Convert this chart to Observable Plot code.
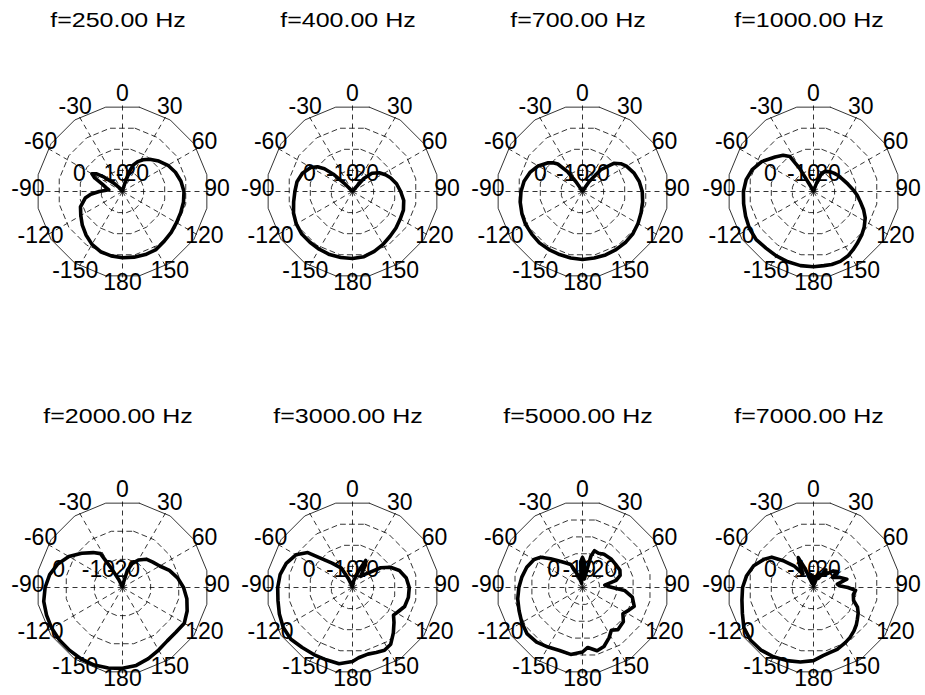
<!DOCTYPE html>
<html><head><meta charset="utf-8">
<script src="https://cdn.jsdelivr.net/npm/d3@7"></script>
<script src="https://cdn.jsdelivr.net/npm/@observablehq/plot@0.6"></script>
<style>
body{margin:0;background:#fff;}
#fig{position:relative;width:925px;height:695px;overflow:hidden;font-family:Arial,"Liberation Sans",sans-serif;background:#fff;}
.title{position:absolute;width:230px;text-align:center;font-size:20.5px;line-height:1;transform:scaleX(1.22);color:#000;white-space:nowrap;}
</style></head><body><div id="fig"></div>
<script>
// ---- data ----
const titles = ["f=250.00 Hz","f=400.00 Hz","f=700.00 Hz","f=1000.00 Hz","f=2000.00 Hz","f=3000.00 Hz","f=5000.00 Hz","f=7000.00 Hz"];
const angleTicks = [0,30,60,90,120,150,180,-150,-120,-90,-60,-30];
const ringLabels = ["0","-10","-20"];
// dashed ring radii (fraction of outer circle) per panel
const rings = [[0.25,0.5,0.75],[0.25,0.5,0.75],[0.25,0.5,0.75],[0.25,0.5,0.75],[1/3,2/3],[0.25,0.5,0.75],[0.2,0.4,0.6,0.8],[0.25,0.5,0.75]];
// ring label horizontal positions (fraction of outer radius) per panel
const ringLabelX = [[-0.5,-0.116,0.116],[-0.5,-0.116,0.116],[-0.49,-0.116,0.125],[-0.5,-0.116,0.125],[-0.744,-0.28,0.012],[-0.505,-0.116,0.116],[-0.337,-0.04,0.21],[-0.5,-0.116,0.125]];

// curves: angle (deg, clockwise from top) and radius (fraction of outer circle)
const ang1 = [-180,-170,-160,-150,-140,-130,-120,-110,-100,-95,-90,-83,-76,-70,-64,-60,-56,-52,-46,-40,-30,-20,-10,0,10,16,19,22,27,33,40,50,60,70,80,90,100,110,120,130,140,150,160,170,180];
const r1   = [0.77,0.76,0.745,0.71,0.66,0.61,0.56,0.52,0.44,0.37,0.27,0.16,0.2,0.25,0.36,0.41,0.37,0.27,0.14,0.05,0.01,0.01,0.01,0.01,0.02,0.1,0.24,0.33,0.39,0.44,0.49,0.55,0.61,0.655,0.69,0.715,0.72,0.72,0.725,0.74,0.755,0.78,0.78,0.775,0.77];
const ang2 = [-180,-170,-160,-150,-140,-130,-120,-110,-100,-90,-80,-70,-60,-55,-51,-48,-45,-40,-20,0,20,38,41,47,55,63,70,80,90,100,110,120,130,140,150,160,170,180];
const r2   = [0.78,0.78,0.78,0.775,0.77,0.77,0.755,0.73,0.695,0.67,0.655,0.62,0.56,0.5,0.42,0.3,0.12,0.02,0.01,0.01,0.01,0.04,0.2,0.31,0.38,0.43,0.47,0.52,0.56,0.605,0.63,0.64,0.66,0.68,0.71,0.74,0.77,0.78];
const ang3 = [-180,-170,-160,-150,-140,-130,-120,-110,-100,-90,-80,-70,-60,-50,-45,-42,-37,-34,-31,-20,0,20,31,34,40,48,54,60,70,80,90,100,110,120,130,140,150,160,170,180];
const r3   = [0.79,0.785,0.78,0.78,0.78,0.77,0.765,0.75,0.735,0.715,0.69,0.65,0.595,0.52,0.47,0.43,0.29,0.14,0.03,0.01,0.01,0.01,0.03,0.14,0.33,0.49,0.55,0.59,0.635,0.67,0.695,0.71,0.725,0.745,0.765,0.775,0.78,0.785,0.785,0.79];
const ang4 = [-180,-170,-160,-150,-140,-130,-120,-110,-100,-90,-80,-70,-60,-48,-40,-34,-31,-29,-20,0,15,20,24,30,40,48,58,68,78,88,95,102,110,117,125,132,140,146,152,159,166,172,180];
const r4   = [0.875,0.875,0.87,0.865,0.86,0.87,0.86,0.84,0.825,0.815,0.795,0.755,0.695,0.6,0.55,0.49,0.31,0.08,0.01,0.01,0.02,0.1,0.23,0.27,0.3,0.32,0.345,0.37,0.41,0.465,0.51,0.555,0.62,0.675,0.72,0.755,0.79,0.82,0.85,0.87,0.875,0.87,0.875];
const ang5 = [-180,-170,-160,-150,-140,-130,-120,-110,-100,-90,-80,-70,-60,-50,-40,-33,-30,-25,-20,0,10,16,22,30,40,50,60,70,80,90,100,110,120,130,140,150,160,170,180];
const r5   = [0.94,0.95,0.96,0.96,0.955,0.955,0.95,0.94,0.93,0.9,0.86,0.8,0.72,0.62,0.53,0.47,0.25,0.1,0.02,0.01,0.05,0.21,0.3,0.37,0.43,0.46,0.5,0.58,0.65,0.71,0.76,0.8,0.83,0.81,0.81,0.84,0.88,0.92,0.94];
const ang6 = [-180,-170,-160,-150,-140,-130,-120,-110,-100,-90,-80,-70,-60,-52,-48,-40,-30,-25,-20,-10,0,10,20,26,30,36,42,48,55,62,70,80,90,100,110,118,124,130,138,146,153,160,167,175,180];
const r6   = [0.86,0.9,0.895,0.9,0.91,0.935,0.93,0.905,0.88,0.87,0.855,0.82,0.76,0.66,0.52,0.37,0.26,0.12,0.03,0.01,0.02,0.08,0.2,0.35,0.3,0.16,0.2,0.26,0.4,0.5,0.58,0.635,0.66,0.66,0.645,0.6,0.575,0.63,0.71,0.795,0.82,0.805,0.795,0.82,0.86];
const ang7 = [-180,-170,-160,-150,-140,-130,-120,-110,-100,-90,-80,-70,-60,-54,-48,-43,-35,-27,-20,-10,-8,-4,0,4,8,12,15,18,25,33,45,55,65,72,78,84,88,94,101,110,116,123,130,140,146,152,160,167,175,180];
const r7   = [0.75,0.79,0.78,0.8,0.83,0.84,0.815,0.785,0.765,0.74,0.715,0.69,0.65,0.6,0.5,0.43,0.35,0.3,0.15,0.05,0.12,0.3,0.35,0.3,0.12,0.1,0.38,0.45,0.44,0.46,0.47,0.47,0.48,0.46,0.4,0.26,0.3,0.49,0.59,0.64,0.6,0.56,0.62,0.64,0.6,0.66,0.73,0.755,0.7,0.75];
const ang8 = [-180,-170,-160,-150,-140,-130,-120,-110,-100,-90,-80,-70,-60,-54,-48,-42,-38,-32,-27,-24,-18,-10,-5,0,8,12,20,28,35,42,50,56,62,68,76,82,86,90,94,100,108,114,120,126,131,137,144,150,159,166,172,180];
const r8   = [0.85,0.88,0.905,0.93,0.95,0.955,0.935,0.88,0.845,0.825,0.79,0.74,0.66,0.6,0.46,0.34,0.2,0.3,0.39,0.25,0.05,0.15,0.05,0.02,0.12,0.04,0.18,0.12,0.25,0.2,0.3,0.33,0.25,0.32,0.4,0.28,0.3,0.4,0.49,0.47,0.49,0.56,0.6,0.63,0.66,0.69,0.72,0.74,0.77,0.78,0.8,0.85];
const angles = [ang1,ang2,ang3,ang4,ang5,ang6,ang7,ang8];
const radii  = [r1,r2,r3,r4,r5,r6,r7,r8];

// ---- layout ----
const colC = [121.7, 351.7, 581.7, 812.8];
const rowC = [190.5, 586.7];
const titleTop = [10, 406];
const SIZE = 230, RPX = 86, D = (SIZE/2)/RPX;
const NPOLY = 16, FONT = "Arial, 'Liberation Sans', sans-serif";

const rad = d => d*Math.PI/180;
const px = (a, r) => r*Math.sin(rad(a));
const py = (a, r) => r*Math.cos(rad(a));
const ringPts = (r) => d3.range(NPOLY+1).map(k => ({r, a: 180/NPOLY + k*360/NPOLY}));

const fig = document.getElementById("fig");
for (let i = 0; i < 8; i++) {
  const col = i % 4, row = Math.floor(i/4);
  const cx = colC[col], cy = rowC[row];
  const curve = angles[i].map((a, k) => ({a, r: radii[i][k]}));
  const gridRings = rings[i].map(ringPts);
  const spokes = d3.range(0, 360, 30);
  const labels = ringLabels.map((t, k) => ({t, x: ringLabelX[i][k]}));
  const marks = [];
  marks.push(Plot.line(ringPts(1), {x: d => px(d.a, d.r), y: d => py(d.a, d.r), stroke: "#000", strokeWidth: 0.8}));
  for (const g of gridRings) {
    marks.push(Plot.line(g, {x: d => px(d.a, d.r), y: d => py(d.a, d.r), stroke: "#000", strokeWidth: 0.8, strokeDasharray: "5,4"}));
  }
  marks.push(Plot.link(spokes, {x1: d => 0, y1: d => 0, x2: d => px(d, 1), y2: d => py(d, 1), stroke: "#000", strokeWidth: 0.8, strokeDasharray: "5,4"}));
  marks.push(Plot.text(angleTicks, {x: d => px(d, 1.1), y: d => py(d, 1.1), text: d => String(d), fontSize: 23, fill: "#000", dy: -3}));
  marks.push(Plot.text(labels, {x: "x", y: d => 0, text: "t", fontSize: 23, fill: "#000", dy: -18}));
  marks.push(Plot.line(curve, {x: d => px(d.a, d.r), y: d => py(d.a, d.r), stroke: "#000", strokeWidth: 3.6, strokeLinejoin: "round", strokeLinecap: "round"}));
  const svg = Plot.plot({
    width: SIZE, height: SIZE, margin: 0,
    x: {domain: [-D, D], axis: null},
    y: {domain: [-D, D], axis: null},
    style: {fontFamily: FONT, background: "transparent", overflow: "visible"},
    marks
  });
  svg.style.position = "absolute";
  svg.style.left = (cx - SIZE/2) + "px";
  svg.style.top = (cy - SIZE/2) + "px";
  fig.appendChild(svg);
  const t = document.createElement("div");
  t.className = "title";
  t.textContent = titles[i];
  t.style.left = (cx - SIZE/2 - 3.4) + "px";
  t.style.top = titleTop[row] + "px";
  fig.appendChild(t);
}
</script></body></html>
